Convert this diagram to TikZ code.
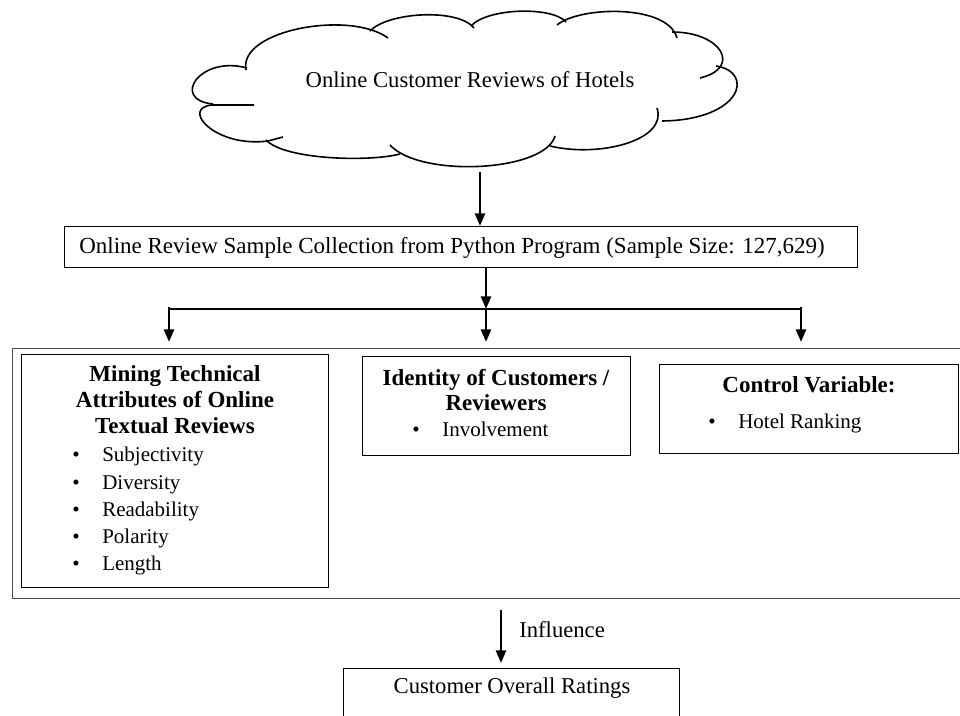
\documentclass[tikz,border=0pt]{standalone}
\usepackage{fontspec}
\setmainfont{Liberation Serif}
\usetikzlibrary{arrows.meta}
\newcommand\bul{\makebox[22.5pt][l]{\textbullet}}
\begin{document}
\begin{tikzpicture}[x=0.75pt,y=-0.75pt,
  box/.style={draw=black, line width=0.9pt, inner sep=0pt, anchor=north west},
  frame/.style={draw=black!70, line width=1.1pt, inner sep=0pt, anchor=north west},
  arr/.style={line width=2pt, -{Triangle[length=9.5pt,width=7.5pt]}},
  ln/.style={line width=2pt},
  puff/.style={line width=1.2pt},
  body/.style={inner sep=0pt, font=\fontsize{15.75}{20}\selectfont, text height=11pt, text depth=3.5pt},
  ttl/.style={inner sep=0pt, font=\fontsize{17.25}{20}\selectfont\bfseries, text height=12pt, text depth=4pt},
  big/.style={inner sep=0pt, font=\fontsize{17}{20}\selectfont, text height=12pt, text depth=4pt}
]
\useasboundingbox (0,0) rectangle (960,716);
\clip (0,0) rectangle (960,716);

% cloud (drawn as puffs)
\draw[puff] (246,70) .. controls (238,30) and (350,10) .. (388,38);
\draw[puff] (370,31) .. controls (388,12) and (458,8) .. (474,28);
\draw[puff] (471,26) .. controls (487,8) and (552,6) .. (566,22);
\draw[puff] (557,25) .. controls (580,6) and (668,4) .. (677,38);
\draw[puff] (672,32) .. controls (722,32) and (742,68) .. (700,78);
\draw[puff] (716,66) .. controls (755,72) and (742,120) .. (662,121);
\draw[puff] (657,108) .. controls (668,140) and (600,158) .. (550,146);
\draw[puff] (555,136) .. controls (545,172) and (420,178) .. (390,145);
\draw[puff] (400,154) .. controls (370,162) and (285,160) .. (266,140);
\draw[puff] (254,105) -- (212,105) .. controls (180,108) and (215,148) .. (268,141) -- (283,137);
\draw[puff] (247,68) .. controls (200,55) and (170,100) .. (213,104);
\node[big] (cltxt) at (470,82) {Online Customer Reviews of Hotels};

% sample box
\node[box, minimum width=594.75pt, minimum height=30.75pt] (b1) at (64,226) {};
\node[big, anchor=west, font=\fontsize{17.25}{20}\selectfont] (b1txt) at (79,248) {Online Review Sample Collection from Python Program (Sample Size: 127,629)};

% arrows to sample box and branch
\coordinate (a1s) at (480,172);
\draw[arr] (a1s) -- (a1s |- b1.north);
\coordinate (br) at (486,309);
\coordinate (bl) at (169,309);
\coordinate (brr) at (801,309);
\draw[arr] (br |- b1.south) -- (br);
\draw[ln] (bl) -- (brr);

% container
\node[frame, minimum width=733.5pt, minimum height=187.5pt] (ct) at (12,348) {};
\draw[arr, shorten >=4.5pt] ([yshift=1.5pt]bl) -- (bl |- ct.north);
\draw[arr, shorten >=4.5pt] (br) -- (br |- ct.north);
\draw[arr, shorten >=4.5pt] ([yshift=1.5pt]brr) -- (brr |- ct.north);

% box A
\node[box, minimum width=230.25pt, minimum height=174.75pt] (bA) at (21,354) {};
\node[ttl] (tA1) at (175,376) {Mining Technical};
\node[ttl] (tA2) at (175,402) {Attributes of Online};
\node[ttl] (tA3) at (175,428) {Textual Reviews};
\node[body, anchor=west] (iA1) at (72,456) {\bul Subjectivity};
\node[body, anchor=west] (iA2) at (72,484) {\bul Diversity};
\node[body, anchor=west] (iA3) at (72,511) {\bul Readability};
\node[body, anchor=west] (iA4) at (72,538) {\bul Polarity};
\node[body, anchor=west] (iA5) at (72,565) {\bul Length};

% box B
\node[box, minimum width=201pt, minimum height=74.25pt] (bB) at (362,356) {};
\node[ttl] (tB1) at (496,380) {Identity of Customers /};
\node[ttl] (tB2) at (496,405) {Reviewers};
\node[body, anchor=west] (iB1) at (412,431) {\bul Involvement};

% box C
\node[box, minimum width=224.25pt, minimum height=66.75pt] (bC) at (659,364) {};
\node[ttl] (tC1) at (809,387) {Control Variable:};
\node[body, anchor=west] (iC1) at (708,423) {\bul Hotel Ranking};

% influence
\node[box, minimum width=252pt, minimum height=54pt] (bD) at (343,668) {};
\node[big] (dtxt) at (512,688) {Customer Overall Ratings};
\coordinate (inf) at (501,610);
\draw[arr, shorten >=3.75pt] (inf) -- (inf |- bD.north);
\node[big, anchor=west] (inflbl) at (519,632) {Influence};
\end{tikzpicture}
\end{document}
